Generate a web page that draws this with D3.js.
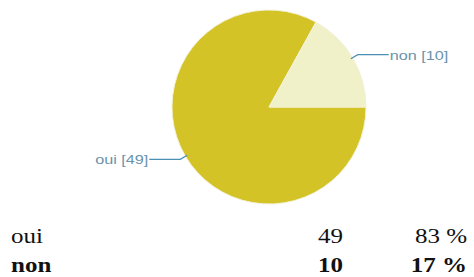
<!DOCTYPE html>
<html>
<head>
<meta charset="utf-8">
<script src="https://cdn.jsdelivr.net/npm/d3@7"></script>
<style>
  body { margin: 0; background: #fff; }
  svg { display: block; }
</style>
</head>
<body>
<svg id="chart" width="474" height="277"></svg>
<script>
const categories = ["oui", "non"];
const counts = [49, 10];
const percents = ["83 %", "17 %"];
const colors = ["#d3c327", "#f0f1c9"];

const svg = d3.select("#chart");
const cx = 269, cy = 107, radius = 97;

// pie starts at 3 o'clock, going clockwise
const pie = d3.pie().sort(null).startAngle(Math.PI / 2).endAngle(Math.PI / 2 + 2 * Math.PI);
const arc = d3.arc().innerRadius(0).outerRadius(radius);
const arcs = pie(counts);

const g = svg.append("g").attr("transform", `translate(${cx},${cy})`);

g.selectAll("path")
  .data(arcs)
  .enter()
  .append("path")
    .attr("d", arc)
    .attr("fill", (d, i) => colors[i])
    .attr("stroke", "#f3f1d6")
    .attr("stroke-width", 1);

// leader lines + labels
arcs.forEach((d, i) => {
  const mid = (d.startAngle + d.endAngle) / 2;
  const sx = Math.sin(mid), sy = -Math.cos(mid);
  const p0 = [sx * (radius - 2), sy * (radius - 2)];
  const p1 = [sx * (radius + 6), sy * (radius + 6)];
  const dir = sx >= 0 ? 1 : -1;
  const p2 = [p1[0] + dir * 31, p1[1]];
  g.append("path")
    .attr("d", d3.line()([p0, p1, p2]))
    .attr("fill", "none")
    .attr("stroke", "#4c8fb5")
    .attr("stroke-width", 1.3);
  g.append("text")
    .attr("transform", `translate(${p2[0] + dir * 1},${p2[1] + 5}) scale(1.2,1)`)
    .attr("text-anchor", dir > 0 ? "start" : "end")
    .attr("font-family", "Arial, 'Liberation Sans', sans-serif")
    .attr("font-size", 13.5)
    .attr("fill", "#6a93ad")
    .text(`${categories[i]} [${counts[i]}]`);
});

// summary table
const rowY = d3.scalePoint().domain(categories).range([243, 272]);
const table = svg.append("g")
  .attr("font-family", "'Liberation Serif', 'Times New Roman', serif")
  .attr("font-size", 20)
  .attr("fill", "#111");

categories.forEach((c, i) => {
  const weight = i === 1 ? "bold" : "normal";
  const y = rowY(c);
  table.append("text")
    .attr("transform", `translate(11,${y}) scale(1.25,1)`)
    .attr("font-weight", weight)
    .text(c);
  table.append("text")
    .attr("transform", `translate(343,${y}) scale(1.25,1)`)
    .attr("text-anchor", "end")
    .attr("font-weight", weight)
    .text(counts[i]);
  table.append("text")
    .attr("transform", `translate(467,${y}) scale(1.25,1)`)
    .attr("text-anchor", "end")
    .attr("font-weight", weight)
    .text(percents[i]);
});
</script>
</body>
</html>
